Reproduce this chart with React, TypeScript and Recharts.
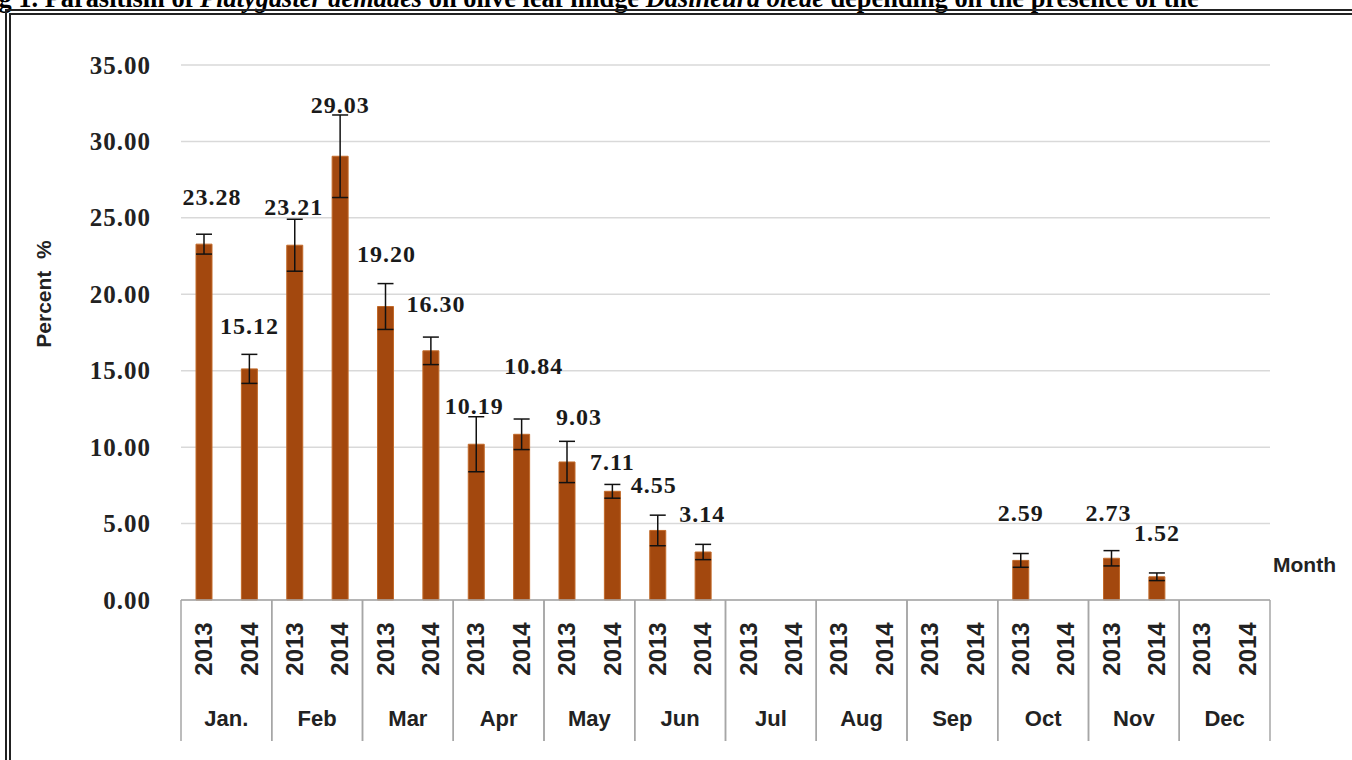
import React from "react";
import {
  BarChart,
  Bar,
  XAxis,
  YAxis,
  CartesianGrid,
  ErrorBar,
  LabelList,
} from "recharts";

const MONTHS = ["Jan.", "Feb", "Mar", "Apr", "May", "Jun", "Jul", "Aug", "Sep", "Oct", "Nov", "Dec"];
const YEARS = ["2013", "2014"];

// parasitism %, null where no sample was taken
const PCT_2013 = [23.28, 23.21, 19.2, 10.19, 9.03, 4.55, null, null, null, 2.59, 2.73, null];
const PCT_2014 = [15.12, 29.03, 16.3, 10.84, 7.11, 3.14, null, null, null, null, 1.52, null];
const SE_2013 = [0.65, 1.7, 1.5, 1.8, 1.35, 1.0, null, null, null, 0.45, 0.5, null];
const SE_2014 = [0.95, 2.7, 0.9, 1.0, 0.45, 0.5, null, null, null, null, 0.25, null];

const Y_TICKS = [0, 5, 10, 15, 20, 25, 30, 35];

const rows = MONTHS.flatMap((m, i) => [
  { month: m, year: YEARS[0], value: PCT_2013[i], err: SE_2013[i] },
  { month: m, year: YEARS[1], value: PCT_2014[i], err: SE_2014[i] },
]);

const W = 1352;
const H = 760;
const PLOT_LEFT = 181;
const PLOT_RIGHT = 1270;
const PLOT_TOP = 65;
const PLOT_BOTTOM = 600;
const PLOT_W = PLOT_RIGHT - PLOT_LEFT;
const SLOT = PLOT_W / 24;

const BAR_FILL = "#A3480E";
const GRID = "#d9d9d9";
const FRAME_GRAY = "#a6a6a6";
const INK = "#1a1a1a";
const SERIF = "'Liberation Serif', 'Times New Roman', serif";
const SANS = "'Liberation Sans', Arial, sans-serif";

// hand-placed label offsets [dx, baseline dy] from each bar's top centre
const NUDGE_2013: [number, number][] = [
  [8, -39], [-1, -30], [1, -45], [-2, -30], [12, -37], [-4, -37],
  [0, 0], [0, 0], [0, 0], [0, -39], [-3, -37], [0, 0],
];
const NUDGE_2014: [number, number][] = [
  [0, -35], [0, -43], [5, -39], [12, -60], [0, -21], [-1, -30],
  [0, 0], [0, 0], [0, 0], [0, 0], [0, -36], [0, 0],
];

function ValueLabel(props: any) {
  const { x, y, width, value } = props;
  if (value == null || value === 0) return null;
  const cx = x + width / 2;
  // empty rows are skipped by the bar, so find the slot from the position
  const slot = Math.floor((cx - PLOT_LEFT) / SLOT);
  const month = Math.floor(slot / 2);
  const [dx, dy] = (slot % 2 === 0 ? NUDGE_2013 : NUDGE_2014)[month];
  return (
    <text
      x={cx + dx}
      y={y + dy}
      textAnchor="middle"
      fontFamily={SERIF}
      fontWeight="bold"
      fontSize={24}
      letterSpacing={1}
      fill={INK}
    >
      {Number(value).toFixed(2)}
    </text>
  );
}

function YTick(props: any) {
  const { y, payload } = props;
  return (
    <text
      x={151}
      y={y}
      textAnchor="end"
      dominantBaseline="central"
      fontFamily={SERIF}
      fontWeight="bold"
      fontSize={25}
      letterSpacing={1}
      fill="#222"
    >
      {Number(payload.value).toFixed(2)}
    </text>
  );
}

// year under each bar; the first year of a month also carries the month
// name and the box lines around it
function YearMonthTick(props: any) {
  const { x, payload, index } = props;
  const cy = 649;
  const isFirst = index % 2 === 0;
  const month = rows[index]?.month;
  const left = x - SLOT / 2;
  const right = x + 1.5 * SLOT;
  return (
    <g>
      <text
        x={x}
        y={cy}
        transform={`rotate(-90 ${x} ${cy})`}
        textAnchor="middle"
        dominantBaseline="central"
        fontFamily={SANS}
        fontWeight="bold"
        fontSize={24}
        fill="#222"
      >
        {payload.value}
      </text>
      {isFirst && (
        <>
          <line x1={left} x2={left} y1={PLOT_BOTTOM} y2={741} stroke={FRAME_GRAY} strokeWidth={1.5} />
          <line x1={right} x2={right} y1={PLOT_BOTTOM} y2={741} stroke={FRAME_GRAY} strokeWidth={1.5} />
          <text
            x={x + SLOT / 2}
            y={718}
            textAnchor="middle"
            dominantBaseline="central"
            fontFamily={SANS}
            fontWeight="bold"
            fontSize={22}
            fill="#222"
          >
            {month}
          </text>
        </>
      )}
    </g>
  );
}

const percentLabel = () => (
  <text
    x={43}
    y={294}
    transform="rotate(-90 43 294)"
    textAnchor="middle"
    dominantBaseline="central"
    fontFamily={SANS}
    fontWeight="bold"
    fontSize={21}
    fill="#222"
  >
    {"Percent\u00a0\u00a0%"}
  </text>
);

const monthLabel = () => (
  <text x={1273} y={572} fontFamily={SANS} fontWeight="bold" fontSize={21} fill="#222">
    Month
  </text>
);

export default function App() {
  return (
    <div
      style={{
        position: "fixed",
        left: 0,
        top: 0,
        width: W,
        height: H,
        overflow: "hidden",
        background: "#fff",
      }}
    >
      <div
        style={{
          position: "absolute",
          left: -25,
          top: -15,
          whiteSpace: "nowrap",
          fontFamily: SERIF,
          fontWeight: "bold",
          fontSize: 26.4,
          lineHeight: "26px",
          color: "#000",
        }}
      >
        Fig 1. Parasitism of <i>Platygaster demades</i> on olive leaf midge{" "}
        <i>Dasineura oleae</i> depending on the presence of the
      </div>
      <div
        style={{
          position: "absolute",
          left: 5,
          top: 9,
          width: 1400,
          height: 800,
          border: "6px double #222",
        }}
      />
      <div style={{ position: "absolute", left: 0, top: 0 }}>
        <BarChart
          width={W}
          height={H}
          data={rows}
          margin={{ top: PLOT_TOP, right: W - PLOT_RIGHT, bottom: 20, left: 41 }}
          barCategoryGap={0}
        >
          <CartesianGrid vertical={false} stroke={GRID} strokeWidth={1.5} />
          <YAxis
            width={140}
            domain={[0, 35]}
            ticks={Y_TICKS}
            axisLine={false}
            tickLine={false}
            tick={<YTick />}
            label={percentLabel}
          />
          <XAxis
            dataKey="year"
            interval={0}
            height={140}
            axisLine={{ stroke: FRAME_GRAY, strokeWidth: 1.5 }}
            tickLine={false}
            tick={<YearMonthTick />}
            label={monthLabel}
          />
          <Bar
            dataKey="value"
            barSize={16}
            fill={BAR_FILL}
            stroke="#C26A2A"
            strokeWidth={1}
            isAnimationActive={false}
          >
            <ErrorBar dataKey="err" width={8} stroke="#111" strokeWidth={1.5} direction="y" isAnimationActive={false} />
            <LabelList dataKey="value" content={<ValueLabel />} />
          </Bar>
        </BarChart>
      </div>
    </div>
  );
}
